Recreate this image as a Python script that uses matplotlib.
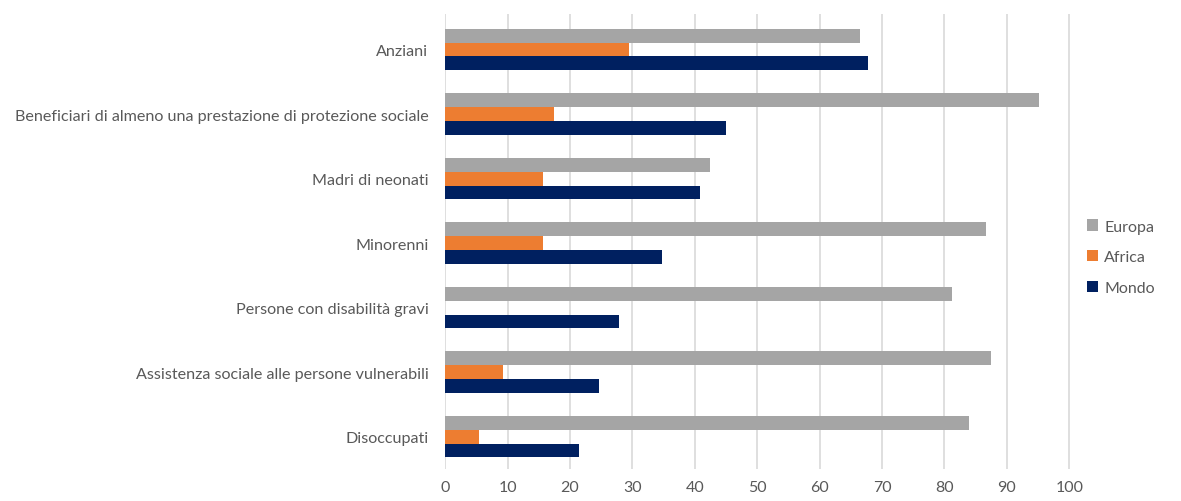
import matplotlib.pyplot as plt
import numpy as np

categories = ["Anziani",
              "Beneficiari di almeno una prestazione di protezione sociale",
              "Madri di neonati",
              "Minorenni",
              "Persone con disabilità gravi",
              "Assistenza sociale alle persone vulnerabili",
              "Disoccupati"]
europa = [66.5, 95.1, 42.4, 86.6, 81.2, 87.4, 83.9]
africa = [29.5, 17.5, 15.6, 15.6, 0.0, 9.3, 5.4]
mondo = [67.7, 45.0, 40.8, 34.8, 27.8, 24.6, 21.5]
series_names = ["Europa", "Africa", "Mondo"]
colors = ["#A5A5A5", "#ED7D31", "#002060"]
xticks = list(range(0, 101, 10))

plt.rcParams['font.family'] = ['Lato', 'DejaVu Sans']
fig = plt.figure(figsize=(11.81, 5.02), dpi=100)
ax = fig.add_axes([0.377, 0.064, 0.531, 0.906])

y = np.arange(len(categories))
h = 0.215
for i, (vals, name, c) in enumerate(zip([europa, africa, mondo], series_names, colors)):
    ax.barh(y + (i - 1) * h, vals, height=h, color=c, label=name, zorder=3)

ax.set_ylim(len(categories) - 0.5, -0.55)
ax.set_xlim(0, 100.5)
ax.set_xticks(xticks)
ax.set_yticks(y)
ax.set_yticklabels(categories)
ax.grid(axis='x', color='#D9D9D9', linewidth=1.2, zorder=0)
for s in ax.spines.values():
    s.set_visible(False)
ax.tick_params(axis='y', length=0, colors='#595959', labelsize=11.6, pad=12)
ax.tick_params(axis='x', length=0, colors='#595959', labelsize=11.5, pad=8)

leg = ax.legend(loc='center left', bbox_to_anchor=(1.0, 0.465), frameon=False,
                handlelength=0.7, handleheight=0.7, handletextpad=0.4,
                labelspacing=1.05, fontsize=11.5)
for t in leg.get_texts():
    t.set_color('#595959')

fig.savefig('out.png', dpi=100)
